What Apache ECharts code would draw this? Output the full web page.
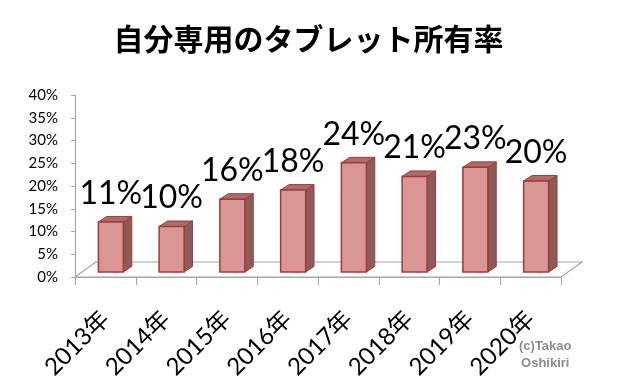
<!DOCTYPE html>
<html>
<head>
<meta charset="utf-8">
<script src="https://cdn.jsdelivr.net/npm/echarts@6/dist/echarts.min.js"></script>
<style>html,body{margin:0;padding:0;background:#fff;}#c{width:617px;height:389px;}</style>
</head>
<body>
<div id="c"></div>
<script>
const titleText = '自分専用のタブレット所有率';
const categories = ['2013年','2014年','2015年','2016年','2017年','2018年','2019年','2020年'];
const values = [11, 10, 16, 18, 24, 21, 23, 20];
const yTicks = [0, 5, 10, 15, 20, 25, 30, 35, 40];
const credit = ['(c)Takao', 'Oshikiri'];

const LATIN = 'Lato, "Noto Sans CJK JP", sans-serif';
const DEPTH_X = 21, DEPTH_Y = 15;

const chart = echarts.init(document.getElementById('c'), null, {renderer: 'canvas'});

function renderFloor(params, api) {
  const cs = params.coordSys;
  const yb = cs.y + cs.height;
  return {
    type: 'group', silent: true,
    children: [{
      type: 'polygon',
      shape: {points: [[cs.x, yb], [cs.x + cs.width, yb], [cs.x + cs.width + DEPTH_X, yb - DEPTH_Y], [cs.x + DEPTH_X, yb - DEPTH_Y]]},
      style: {fill: '#ffffff', stroke: '#a6a6a6', lineWidth: 1.2}
    }]
  };
}

function renderBar(params, api) {
  const i = api.value(0), v = api.value(1);
  const top = api.coord([i, v]);
  const base = api.coord([i, 0]);
  const bw = 25, dx = 8.4, dy = -5.5, sx = 5.5, sy = -5;
  const x0 = top[0] + sx - bw / 2, x1 = x0 + bw;
  const yt = top[1] + sy, yb = base[1] + sy;
  const edge = '#a23a3a';
  return {
    type: 'group',
    children: [
      {type: 'ellipse', shape: {cx: (x0 + x1 + dx) / 2, cy: yb + dy / 2, rx: 30, ry: 6},
        style: {fill: new echarts.graphic.RadialGradient(0.5, 0.5, 0.5, [
          {offset: 0, color: 'rgba(0,0,0,0.28)'}, {offset: 1, color: 'rgba(0,0,0,0)'}])}},
      {type: 'polygon', shape: {points: [[x1, yt], [x1 + dx, yt + dy], [x1 + dx, yb + dy], [x1, yb]]},
        style: {fill: '#8c5c5b', stroke: edge, lineWidth: 1}},
      {type: 'polygon', shape: {points: [[x0, yt], [x0 + dx, yt + dy], [x1 + dx, yt + dy], [x1, yt]]},
        style: {fill: '#a86d6c', stroke: edge, lineWidth: 1}},
      {type: 'rect', shape: {x: x0, y: yt, width: bw, height: yb - yt},
        style: {fill: '#d99694', stroke: edge, lineWidth: 1.5}},
      {type: 'text', style: {text: v + '%', x: (x0 + x1) / 2, y: yt + dy - 7,
        textAlign: 'center', textVerticalAlign: 'bottom', font: '32px ' + LATIN, fill: '#000'}}
    ]
  };
}

chart.setOption({
  animation: false,
  backgroundColor: '#ffffff',
  title: {
    text: titleText, left: 'center', top: 19,
    textStyle: {fontSize: 30, fontWeight: 'bold', fontFamily: '"Noto Sans CJK JP", sans-serif', color: '#000'}
  },
  grid: {left: 75, right: 56, top: 95, bottom: 112, containLabel: false},
  xAxis: {
    type: 'category', data: categories, boundaryGap: true,
    axisLine: {show: true, lineStyle: {color: '#a6a6a6', width: 1.2}},
    axisTick: {show: true, length: 8, lineStyle: {color: '#a6a6a6'}},
    axisLabel: {rotate: 45, margin: 38, fontSize: 24, fontFamily: LATIN, color: '#000', interval: 0}
  },
  yAxis: {
    type: 'value', min: yTicks[0], max: yTicks[yTicks.length - 1], interval: yTicks[1] - yTicks[0],
    splitLine: {show: false},
    axisLine: {show: true, lineStyle: {color: '#a6a6a6', width: 1.2}},
    axisTick: {show: true, length: 4, lineStyle: {color: '#a6a6a6'}},
    axisLabel: {formatter: '{value}%', margin: 17, fontSize: 15, fontFamily: LATIN, color: '#000'}
  },
  series: [
    {type: 'custom', renderItem: renderFloor, data: [[0, 0]], z: 1, silent: true},
    {type: 'custom', renderItem: renderBar, data: values.map((v, i) => [i, v]), z: 2,
      encode: {x: 0, y: 1}}
  ],
  graphic: [
    {type: 'text', left: 519, top: 338, style: {text: credit.join('\n'), font: 'bold 13px "Liberation Sans", Arial, sans-serif',
      fill: '#8c8c8c', textAlign: 'center', lineHeight: 17}}
  ]
});
</script>
</body>
</html>
